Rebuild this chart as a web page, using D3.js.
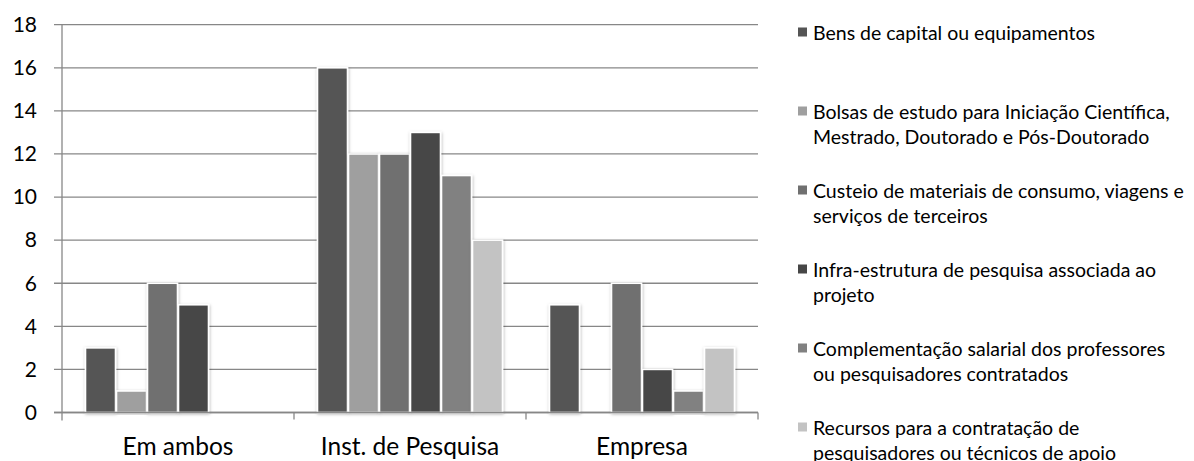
<!DOCTYPE html>
<html>
<head>
<meta charset="utf-8">
<script src="https://cdn.jsdelivr.net/npm/d3@7"></script>
<style>
  html, body { margin: 0; padding: 0; background: #fff; }
  svg { display: block; font-family: Lato, "Open Sans", sans-serif; }
</style>
</head>
<body>
<svg id="chart" width="1194" height="461"></svg>
<script>
// Categories along the x axis
const categories = ["Em ambos", "Inst. de Pesquisa", "Empresa"];

// Series names (legend labels, split into display lines)
const seriesNames = [
  "Bens de capital ou equipamentos",
  "Bolsas de estudo para Iniciação Científica, Mestrado, Doutorado e Pós-Doutorado",
  "Custeio de materiais de consumo, viagens e serviços de terceiros",
  "Infra-estrutura de pesquisa associada ao projeto",
  "Complementação salarial dos professores ou pesquisadores contratados",
  "Recursos para a contratação de pesquisadores ou técnicos de apoio"
];
const legendLines = [
  ["Bens de capital ou equipamentos"],
  ["Bolsas de estudo para Iniciação Científica,", "Mestrado, Doutorado e Pós-Doutorado"],
  ["Custeio de materiais de consumo, viagens e", "serviços de terceiros"],
  ["Infra-estrutura de pesquisa associada ao", "projeto"],
  ["Complementação salarial dos professores", "ou pesquisadores contratados"],
  ["Recursos para a contratação de", "pesquisadores ou técnicos de apoio"]
];

// Values per series, one per category
const bensCapital     = [3, 16, 5];
const bolsas          = [1, 12, 0];
const custeio         = [6, 12, 6];
const infraEstrutura  = [5, 13, 2];
const complementacao  = [0, 11, 1];
const recursos        = [0, 8, 3];
const seriesValues = [bensCapital, bolsas, custeio, infraEstrutura, complementacao, recursos];

// Y axis ticks
const yTicks = [0, 2, 4, 6, 8, 10, 12, 14, 16, 18];

const colors = ["#555555", "#9f9f9f", "#707070", "#464646", "#818181", "#c3c3c3"];

const svg = d3.select("#chart");

const plot = { left: 62, right: 758, top: 24.7, bottom: 412.5 };

const x0 = d3.scaleBand().domain(categories).range([plot.left, plot.right]).padding(0);
const groupPad = 23;
const x1 = d3.scaleBand().domain(d3.range(seriesNames.length))
  .range([groupPad, x0.bandwidth() - groupPad]).padding(0);
const y = d3.scaleLinear().domain([0, 18]).range([plot.bottom, plot.top]);

// soft shadow around bars
const defs = svg.append("defs");
const f = defs.append("filter").attr("id", "shadow")
  .attr("x", "-30%").attr("y", "-10%").attr("width", "160%").attr("height", "120%");
f.append("feDropShadow").attr("dx", 0.5).attr("dy", 1).attr("stdDeviation", 1.6)
  .attr("flood-color", "#000").attr("flood-opacity", 0.3);

const axisColor = "#878787";

// horizontal gridlines (incl. baseline)
svg.append("g").selectAll("line").data(yTicks).join("line")
  .attr("x1", plot.left - 8).attr("x2", plot.right)
  .attr("y1", d => y(d)).attr("y2", d => y(d))
  .attr("stroke", axisColor).attr("stroke-width", 1.3);

// y axis labels
svg.append("g").selectAll("text").data(yTicks).join("text")
  .attr("x", 37).attr("y", d => y(d)).attr("dy", "0.35em")
  .attr("text-anchor", "end").attr("font-size", 21).attr("fill", "#000")
  .text(d => d);

// bars
const groups = svg.append("g").selectAll("g").data(categories).join("g")
  .attr("transform", c => `translate(${x0(c)},0)`);
groups.selectAll("rect")
  .data((c, ci) => seriesValues.map((vals, si) => ({ si, v: vals[ci] })).filter(d => d.v > 0))
  .join("rect")
  .attr("x", d => x1(d.si) + 0.5)
  .attr("width", x1.bandwidth() - 1)
  .attr("y", d => y(d.v))
  .attr("height", d => y(0) - y(d.v))
  .attr("fill", d => colors[d.si])
  .attr("stroke", "#fff").attr("stroke-width", 1.6)
  .attr("filter", "url(#shadow)");

// y axis line
svg.append("line")
  .attr("x1", plot.left).attr("x2", plot.left)
  .attr("y1", plot.top).attr("y2", plot.bottom + 8)
  .attr("stroke", axisColor).attr("stroke-width", 1.3);

// x axis baseline and category boundary ticks
svg.append("line")
  .attr("x1", plot.left - 8).attr("x2", plot.right)
  .attr("y1", y(0)).attr("y2", y(0))
  .attr("stroke", axisColor).attr("stroke-width", 1.3);
const bounds = categories.map(c => x0(c)).concat([plot.right]);
svg.append("g").selectAll("line").data(bounds.slice(1)).join("line")
  .attr("x1", d => d).attr("x2", d => d)
  .attr("y1", y(0)).attr("y2", y(0) + 7)
  .attr("stroke", axisColor).attr("stroke-width", 1.3);

// category labels
svg.append("g").selectAll("text").data(categories).join("text")
  .attr("x", c => x0(c) + x0.bandwidth() / 2).attr("y", 455)
  .attr("text-anchor", "middle").attr("font-size", 24.5).attr("fill", "#000")
  .text(c => c);

// legend
const legendTop = 32, legendStep = 79, lineH = 25;
const lg = svg.append("g").selectAll("g").data(legendLines).join("g")
  .attr("transform", (d, i) => `translate(798,${legendTop + i * legendStep})`);
lg.append("rect").attr("x", 0).attr("y", -4.5).attr("width", 9).attr("height", 9)
  .attr("fill", (d, i) => colors[i]);
lg.append("text").attr("font-size", 19.5).attr("fill", "#000")
  .selectAll("tspan").data(d => d).join("tspan")
  .attr("x", 15).attr("y", (d, i) => 1.5 + i * lineH).attr("dy", "0.35em")
  .text(d => d);
</script>
</body>
</html>
